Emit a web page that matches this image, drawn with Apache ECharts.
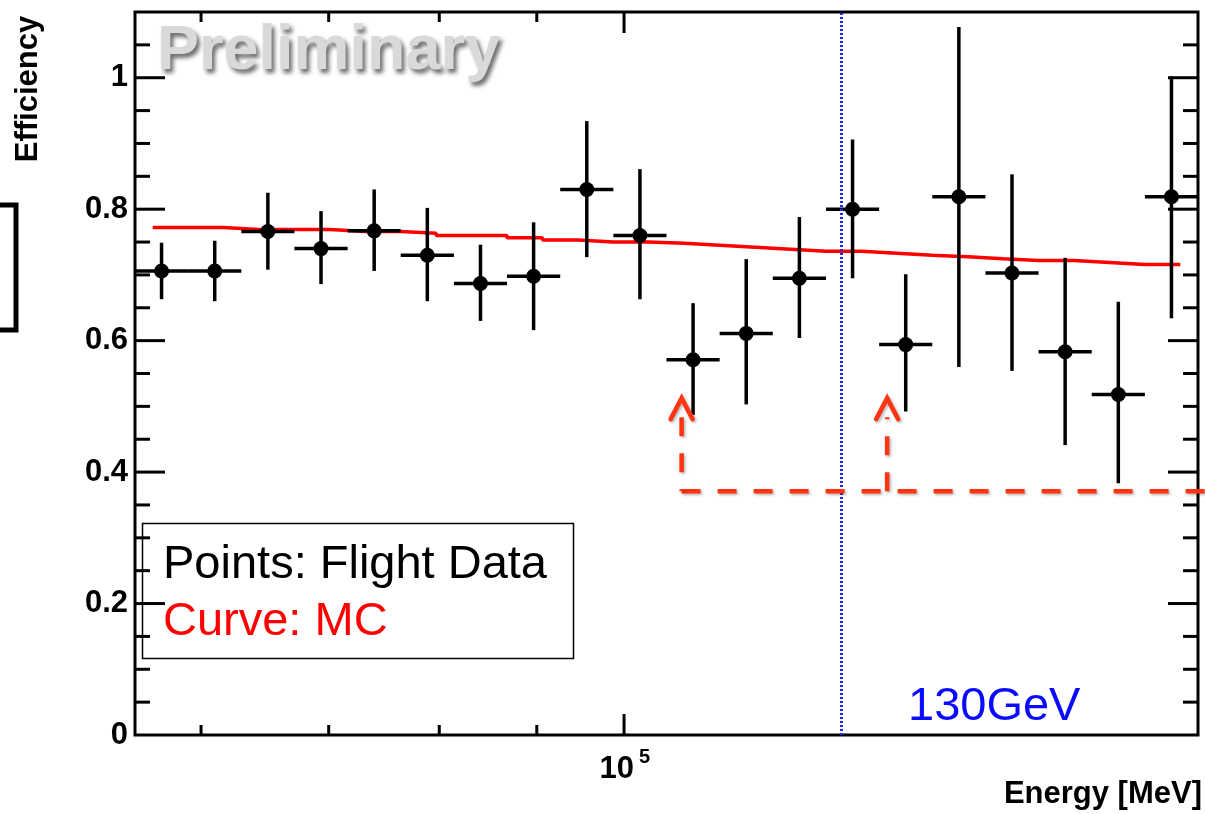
<!DOCTYPE html>
<html>
<head>
<meta charset="utf-8">
<script src="https://cdn.jsdelivr.net/npm/echarts@6/dist/echarts.min.js"></script>
<style>
  html, body { margin: 0; padding: 0; background: #ffffff; }
  #chart { width: 1205px; height: 814px; }
</style>
</head>
<body>
<div id="chart"></div>
<script>
// Energy binning of the flight-data histogram (MeV), 20 log bins
const binEdges = [55400, 59070, 62990, 67160, 71620, 76360, 81430, 86820, 92580, 98720,
                  105260, 112240, 119680, 127620, 136080, 145100, 154720, 164970, 175910, 187580, 200000];
// Flight data efficiency per bin and its error band
const efficiency = [0.706, 0.706, 0.766, 0.740, 0.767, 0.730, 0.687, 0.698, 0.830, 0.760,
                    0.571, 0.611, 0.695, 0.800, 0.594, 0.819, 0.703, 0.583, 0.518, 0.819];
const effLow  = [0.663, 0.660, 0.708, 0.686, 0.706, 0.660, 0.630, 0.616, 0.727, 0.663,
                 0.487, 0.503, 0.604, 0.695, 0.492, 0.560, 0.554, 0.441, 0.383, 0.634];
const effHigh = [0.749, 0.752, 0.825, 0.797, 0.830, 0.802, 0.746, 0.780, 0.934, 0.861,
                 0.657, 0.724, 0.788, 0.906, 0.701, 1.077, 0.853, 0.726, 0.659, 1.002];
// Monte Carlo expectation (30 bin centres, MeV)
const mcEnergy = [56600, 59070, 61660, 64350, 67160, 70100, 73170, 76360, 79700, 83190,
                  86820, 90620, 94580, 98720, 103030, 107540, 112240, 117150, 122270, 127620,
                  133190, 139020, 145100, 151450, 158070, 164970, 172190, 179720, 187580, 195770];
const mcEfficiency = [0.772, 0.772, 0.769, 0.769, 0.769, 0.766, 0.766, 0.7635, 0.760, 0.760,
                      0.7565, 0.753, 0.750, 0.750, 0.748, 0.745, 0.742, 0.739, 0.736, 0.736,
                      0.733, 0.730, 0.7275, 0.7245, 0.722, 0.722, 0.719, 0.716, 0.716, 0.716];
// Axis ticks
const xTickValues = [60000, 70000, 80000, 90000, 100000];
const xMajorTicks = [100000];
const yMajorTicks = [0.2, 0.4, 0.6, 0.8, 1.0];
const yMinorTicks = [0.05, 0.1, 0.15, 0.25, 0.3, 0.35, 0.45, 0.5, 0.55, 0.65, 0.7, 0.75, 0.85, 0.9, 0.95, 1.05];
// 130 GeV reference line and highlighted energy range
const lineEnergy = 130000;
const bracketEnergies = [107200, 137400];
const bracketBase = 0.371;
const bracketTip = 0.5125;

const X_MIN = 55400, X_MAX = 200000, Y_MIN = 0, Y_MAX = 1.1;
const FONT = '"Liberation Sans", Arial, Helvetica, sans-serif';

const chart = echarts.init(document.getElementById('chart'), null, { renderer: 'canvas' });

const pointData = efficiency.map((v, i) => [
  Math.sqrt(binEdges[i] * binEdges[i + 1]), v, effLow[i], effHigh[i], binEdges[i], binEdges[i + 1]
]);
const mcData = mcEnergy.map((e, i) => [e, mcEfficiency[i]]);
const yTickData = yMajorTicks.concat(yMinorTicks).map(v => [X_MIN, v]);
const xTickData = xTickValues.map(v => [v, Y_MIN]);

const tickStyle = { stroke: '#000', lineWidth: 3 };
const barStyle = { stroke: '#000', lineWidth: 3.5 };

const option = {
  animation: false,
  backgroundColor: '#ffffff',
  grid: {
    left: 135, top: 12, width: 1063, height: 723,
    show: true, borderColor: '#000', borderWidth: 3, backgroundColor: 'transparent'
  },
  xAxis: {
    type: 'log', logBase: 10, min: X_MIN, max: X_MAX,
    axisLine: { show: false }, axisTick: { show: false },
    axisLabel: { show: false }, splitLine: { show: false }, minorTick: { show: false }
  },
  yAxis: {
    type: 'value', min: Y_MIN, max: Y_MAX, interval: 0.2,
    axisLine: { show: false }, axisTick: { show: false }, splitLine: { show: false },
    axisLabel: {
      margin: 7, color: '#000', fontSize: 31, fontWeight: 'bold', fontFamily: FONT,
      formatter: v => (v > 1.05 ? '' : String(Math.round(v * 10) / 10))
    }
  },
  series: [
    {
      // Monte Carlo curve with the 130 GeV marker line
      type: 'line', step: 'end', data: mcData, showSymbol: false, z: 3,
      lineStyle: { color: '#ff0000', width: 3.5 },
      markLine: {
        silent: true, symbol: 'none', label: { show: false },
        lineStyle: { color: '#2424ff', width: 3, type: [2, 2] },
        data: [{ xAxis: lineEnergy }]
      }
    },
    {
      // Flight data: bin-width horizontal bars, vertical error bars and markers
      type: 'custom', z: 4, data: pointData, encode: { x: 0, y: 1 },
      renderItem: (params, api) => {
        const x = api.value(0), y = api.value(1);
        const c = api.coord([x, y]);
        const lo = api.coord([x, api.value(2)]);
        const hi = api.coord([x, api.value(3)]);
        const l = api.coord([api.value(4), y]);
        const r = api.coord([api.value(5), y]);
        return {
          type: 'group',
          children: [
            { type: 'line', shape: { x1: lo[0], y1: lo[1], x2: hi[0], y2: hi[1] }, style: barStyle },
            { type: 'line', shape: { x1: l[0], y1: l[1], x2: r[0], y2: r[1] }, style: barStyle },
            { type: 'circle', shape: { cx: c[0], cy: c[1], r: 7.5 }, style: { fill: '#000' } }
          ]
        };
      }
    },
    {
      // x-axis ticks (bottom and top frame) and the 10^5 label
      type: 'custom', z: 6, data: xTickData, encode: { x: 0, y: 1 }, clip: false,
      renderItem: (params, api) => {
        const v = api.value(0);
        const major = xMajorTicks.indexOf(v) >= 0;
        const len = major ? 21 : 10;
        const b = api.coord([v, Y_MIN]);
        const t = api.coord([v, Y_MAX]);
        const children = [
          { type: 'line', shape: { x1: b[0], y1: b[1], x2: b[0], y2: b[1] - len }, style: tickStyle },
          { type: 'line', shape: { x1: t[0], y1: t[1], x2: t[0], y2: t[1] + len }, style: tickStyle }
        ];
        if (major) {
          children.push({ type: 'text', style: { text: '10', x: b[0] + 10, y: b[1] + 34, align: 'right', verticalAlign: 'middle', fill: '#000', font: 'bold 31px ' + FONT } });
          children.push({ type: 'text', style: { text: '5', x: b[0] + 15, y: b[1] + 22, align: 'left', verticalAlign: 'middle', fill: '#000', font: 'bold 20px ' + FONT } });
        }
        return { type: 'group', children };
      }
    },
    {
      // y-axis ticks on left and right frame
      type: 'custom', z: 6, data: yTickData, encode: { x: 0, y: 1 }, clip: false,
      renderItem: (params, api) => {
        const v = api.value(1);
        const major = yMajorTicks.indexOf(v) >= 0;
        const len = major ? 30 : 15;
        const l = api.coord([X_MIN, v]);
        const r = api.coord([X_MAX, v]);
        return {
          type: 'group',
          children: [
            { type: 'line', shape: { x1: l[0], y1: l[1], x2: l[0] + len, y2: l[1] }, style: tickStyle },
            { type: 'line', shape: { x1: r[0], y1: r[1], x2: r[0] - len, y2: r[1] }, style: tickStyle }
          ]
        };
      }
    },
    {
      // dashed bracket with arrows marking the energy window
      type: 'custom', z: 7, clip: false, data: [[bracketEnergies[0], bracketBase]], encode: { x: 0, y: 1 },
      renderItem: (params, api) => {
        const a = api.coord([bracketEnergies[0], bracketBase]);
        const b = api.coord([bracketEnergies[1], bracketBase]);
        const ta = api.coord([bracketEnergies[0], bracketTip]);
        const tb = api.coord([bracketEnergies[1], bracketTip]);
        const col = '#ff3412';
        const shadow = { shadowColor: 'rgba(0,0,0,0.3)', shadowBlur: 3, shadowOffsetX: 1.5, shadowOffsetY: 1.5 };
        const dashed = Object.assign({ stroke: col, fill: null, lineWidth: 4.5, lineDash: [19, 17] }, shadow);
        const solid = Object.assign({ stroke: col, fill: null, lineWidth: 4.5, lineJoin: 'miter', lineCap: 'round' }, shadow);
        const w = api.getWidth();
        return {
          type: 'group',
          children: [
            { type: 'line', shape: { x1: a[0], y1: a[1], x2: w, y2: a[1] }, style: dashed },
            { type: 'line', shape: { x1: ta[0], y1: ta[1] + 19, x2: a[0], y2: a[1] }, style: dashed },
            { type: 'line', shape: { x1: b[0], y1: b[1], x2: tb[0], y2: tb[1] + 19 }, style: dashed },
            { type: 'polyline', shape: { points: [[ta[0] - 11, ta[1] + 21], [ta[0], ta[1]], [ta[0] + 11, ta[1] + 21]] }, style: solid },
            { type: 'polyline', shape: { points: [[tb[0] - 11, tb[1] + 21], [tb[0], tb[1]], [tb[0] + 11, tb[1] + 21]] }, style: solid }
          ]
        };
      }
    }
  ],
  graphic: [
    {
      type: 'polyline', z: 1,
      shape: { points: [[0, 205], [16, 205], [16, 330], [0, 330]] },
      style: { stroke: '#000', lineWidth: 5, fill: null }
    },
    {
      type: 'text', x: 28, y: 89, rotation: Math.PI / 2, z: 10,
      style: { text: 'Efficiency', align: 'center', verticalAlign: 'middle', fill: '#000', font: 'bold 31px ' + FONT }
    },
    {
      type: 'text', x: 1202, y: 794, z: 10,
      style: { text: 'Energy [MeV]', align: 'right', verticalAlign: 'middle', fill: '#000', font: 'bold 31px ' + FONT }
    },
    {
      type: 'text', x: 157, y: 52, z: 10,
      style: {
        text: 'Preliminary', align: 'left', verticalAlign: 'middle', fill: '#d9d9d9',
        font: 'bold 63px ' + FONT,
        textShadowColor: 'rgba(60,60,60,0.75)', textShadowBlur: 4, textShadowOffsetX: 3, textShadowOffsetY: 4
      }
    },
    {
      type: 'rect', z: 1,
      shape: { x: 142.5, y: 523.5, width: 431, height: 135 },
      style: { fill: '#ffffff', stroke: '#000', lineWidth: 1.5 }
    },
    {
      type: 'text', x: 163, y: 565, z: 10,
      style: { text: 'Points: Flight Data', align: 'left', verticalAlign: 'middle', fill: '#000', font: '47px ' + FONT }
    },
    {
      type: 'text', x: 163, y: 622, z: 10,
      style: { text: 'Curve: MC', align: 'left', verticalAlign: 'middle', fill: '#ff0000', font: '47px ' + FONT }
    },
    {
      type: 'text', x: 908, y: 707, z: 10,
      style: { text: '130GeV', align: 'left', verticalAlign: 'middle', fill: '#0a0aff', font: '47px ' + FONT }
    }
  ]
};

chart.setOption(option);
</script>
</body>
</html>
